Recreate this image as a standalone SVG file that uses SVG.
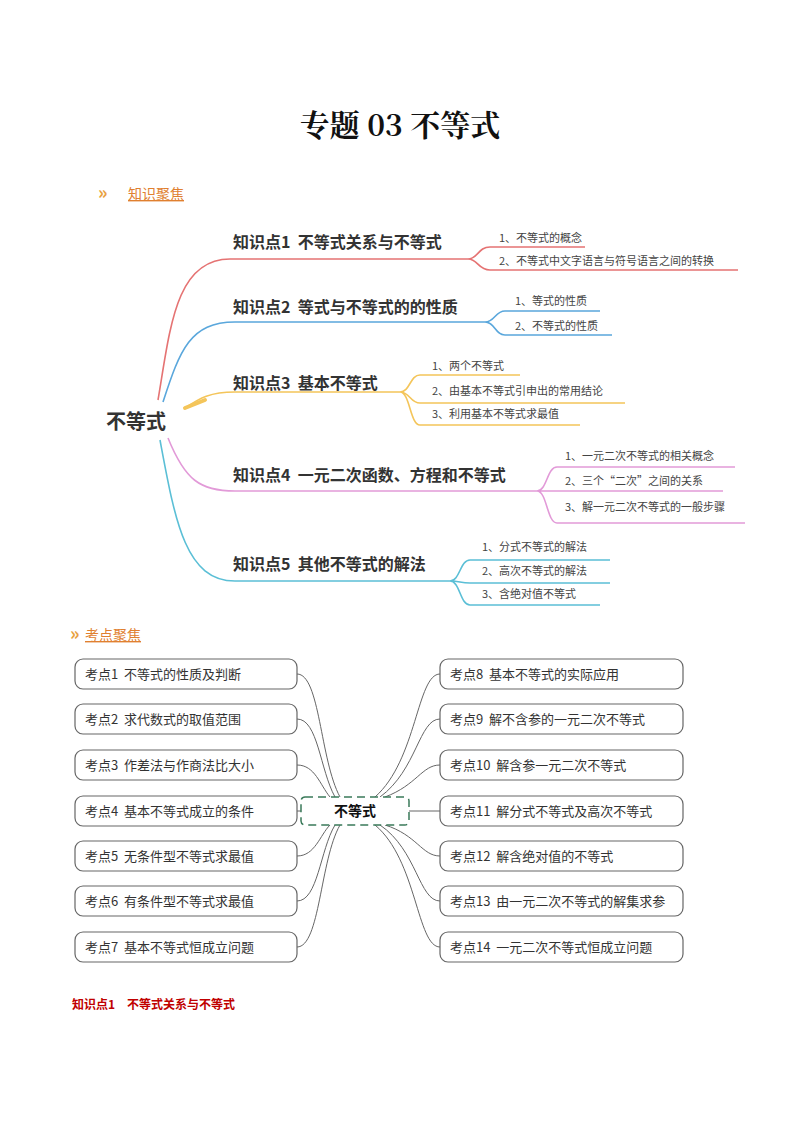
<svg xmlns="http://www.w3.org/2000/svg" width="794" height="1123" viewBox="0 0 794 1123">
<style>
text{font-family:"Noto Sans CJK SC","Noto Sans",sans-serif;fill:#333;white-space:pre}
.b{font-size:16px;font-weight:bold}
.s{font-size:11px;fill:#444}
.k{font-size:13px;fill:#333}
.box{fill:#fff;stroke:#666;stroke-width:1.2}
.c{fill:none;stroke:#666;stroke-width:1}
.red{stroke:#e57373}.blu{stroke:#5aa7dc}.yel{stroke:#f4c55a}.pnk{stroke:#e29ad8}.cyn{stroke:#5bbfd6}
.ln{fill:none;stroke-width:1.6}
</style>
<rect width="794" height="1123" fill="#fff"/>
<text x="400" y="136" text-anchor="middle" style="font-family:'Noto Serif CJK SC','Noto Sans CJK SC',serif;font-size:30px;font-weight:bold;fill:#111">专题 03 不等式</text>
<text x="98" y="199" style="font-size:18px;font-weight:bold;fill:#e8a040">»</text>
<text x="128" y="199" style="font-size:14px;fill:#e08030;text-decoration:underline">知识聚焦</text>

<g id="connectors-top">
<path class="ln red" d="M158,400 C170,330 175,259 230,259 L468,259 C478,259 478,247 490,247 L585,247 M468,259 C478,259 478,270 490,270 L738,270" stroke-width="2"/>
<path class="ln blu" d="M163,402 C180,350 190,322 235,322 L485,322 C495,322 495,311 505,311 L600,311 M485,322 C495,322 495,335 505,335 L612,335" stroke-width="2"/>
<path class="ln yel" d="M185,408 C200,398 210,392 235,392 L400,392 C410,392 410,375 420,375 L520,375 M400,392 C410,392 410,403 420,403 L625,403 M400,392 C410,392 410,425 420,425 L580,425"/>
<path d="M185,408 L205,400" stroke="#f4c55a" stroke-width="4" stroke-linecap="round"/>
<path class="ln pnk" d="M168,438 C185,480 200,491 235,491 L537,491 C547,491 547,467 557,467 L735,467 M537,491 L723,491 M537,491 C547,491 547,523 557,523 L745,523"/>
<path class="ln cyn" d="M160,440 C175,520 185,581 235,581 L450,581 C460,581 460,560 470,560 L610,560 M450,581 C460,581 460,583 470,583 L610,583 M450,581 C460,581 460,605 470,605 L600,605" stroke-width="2"/>
</g>
<g id="root-top"><text x="106" y="429" style="font-size:20px;font-weight:bold;fill:#333">不等式</text></g>
<g id="kp1"><text class="b" x="233" y="248">知识点1  不等式关系与不等式</text></g>
<g id="kp2"><text class="b" x="233" y="313">知识点2  等式与不等式的的性质</text></g>
<g id="kp3"><text class="b" x="233" y="389">知识点3  基本不等式</text></g>
<g id="kp4"><text class="b" x="233" y="481">知识点4  一元二次函数、方程和不等式</text></g>
<g id="kp5"><text class="b" x="233" y="570">知识点5  其他不等式的解法</text></g>
<g id="subs">
<text class="s" x="499" y="242">1、不等式的概念</text>
<text class="s" x="499" y="265">2、不等式中文字语言与符号语言之间的转换</text>
<text class="s" x="515" y="305">1、等式的性质</text>
<text class="s" x="515" y="330">2、不等式的性质</text>
<text class="s" x="432" y="370">1、两个不等式</text>
<text class="s" x="432" y="395">2、由基本不等式引申出的常用结论</text>
<text class="s" x="432" y="418">3、利用基本不等式求最值</text>
<text class="s" x="565" y="460">1、一元二次不等式的相关概念</text>
<text class="s" x="565" y="485">2、三个“二次”之间的关系</text>
<text class="s" x="565" y="511">3、解一元二次不等式的一般步骤</text>
<text class="s" x="482" y="551">1、分式不等式的解法</text>
<text class="s" x="482" y="575">2、高次不等式的解法</text>
<text class="s" x="482" y="598">3、含绝对值不等式</text>
</g>

<text x="70" y="640" style="font-size:18px;font-weight:bold;fill:#e8a040">»</text>
<text x="85" y="640" style="font-size:14px;fill:#e08030;text-decoration:underline">考点聚焦</text>

<g id="connectors-bottom">
<path class="c" d="M297,674 C320,674 320,760 340,797"/>
<path class="c" d="M297,719 C318,719 320,770 335,797"/>
<path class="c" d="M297,765 C315,765 320,785 330,797"/>
<path class="c" d="M297,811 L301,811"/>
<path class="c" d="M297,856 C315,856 320,835 330,825"/>
<path class="c" d="M297,901 C318,901 320,850 335,825"/>
<path class="c" d="M297,947 C320,947 320,860 340,825"/>
<path class="c" d="M440,674 C417,674 417,760 375,797"/>
<path class="c" d="M440,719 C419,719 417,770 380,797"/>
<path class="c" d="M440,765 C422,765 417,785 385,797"/>
<path class="c" d="M409,811 L440,811"/>
<path class="c" d="M440,856 C422,856 417,835 385,825"/>
<path class="c" d="M440,901 C419,901 417,850 380,825"/>
<path class="c" d="M440,947 C417,947 417,860 375,825"/>
</g>
<g id="center"><rect x="301" y="797" width="108" height="28" rx="4" fill="#fff" stroke="#3a7a5a" stroke-width="1.5" stroke-dasharray="8,5"/><text x="355" y="816" text-anchor="middle" style="font-size:14px;font-weight:bold;fill:#111">不等式</text></g>
<g id="k1"><rect class="box" x="75" y="659" width="222" height="30" rx="8"/><text class="k" x="85" y="679">考点1  不等式的性质及判断</text></g>
<g id="k2"><rect class="box" x="75" y="704" width="222" height="30" rx="8"/><text class="k" x="85" y="724">考点2  求代数式的取值范围</text></g>
<g id="k3"><rect class="box" x="75" y="750" width="222" height="30" rx="8"/><text class="k" x="85" y="770">考点3  作差法与作商法比大小</text></g>
<g id="k4"><rect class="box" x="75" y="796" width="222" height="30" rx="8"/><text class="k" x="85" y="816">考点4  基本不等式成立的条件</text></g>
<g id="k5"><rect class="box" x="75" y="841" width="222" height="30" rx="8"/><text class="k" x="85" y="861">考点5  无条件型不等式求最值</text></g>
<g id="k6"><rect class="box" x="75" y="886" width="222" height="30" rx="8"/><text class="k" x="85" y="906">考点6  有条件型不等式求最值</text></g>
<g id="k7"><rect class="box" x="75" y="932" width="222" height="30" rx="8"/><text class="k" x="85" y="952">考点7  基本不等式恒成立问题</text></g>
<g id="k8"><rect class="box" x="440" y="659" width="243" height="30" rx="8"/><text class="k" x="450" y="679">考点8  基本不等式的实际应用</text></g>
<g id="k9"><rect class="box" x="440" y="704" width="243" height="30" rx="8"/><text class="k" x="450" y="724">考点9  解不含参的一元二次不等式</text></g>
<g id="k10"><rect class="box" x="440" y="750" width="243" height="30" rx="8"/><text class="k" x="450" y="770">考点10  解含参一元二次不等式</text></g>
<g id="k11"><rect class="box" x="440" y="796" width="243" height="30" rx="8"/><text class="k" x="450" y="816">考点11  解分式不等式及高次不等式</text></g>
<g id="k12"><rect class="box" x="440" y="841" width="243" height="30" rx="8"/><text class="k" x="450" y="861">考点12  解含绝对值的不等式</text></g>
<g id="k13"><rect class="box" x="440" y="886" width="243" height="30" rx="8"/><text class="k" x="450" y="906">考点13  由一元二次不等式的解集求参</text></g>
<g id="k14"><rect class="box" x="440" y="932" width="243" height="30" rx="8"/><text class="k" x="450" y="952">考点14  一元二次不等式恒成立问题</text></g>
<text x="72" y="1009" style="font-size:12px;font-weight:bold;fill:#c00000">知识点1　不等式关系与不等式</text>
</svg>
